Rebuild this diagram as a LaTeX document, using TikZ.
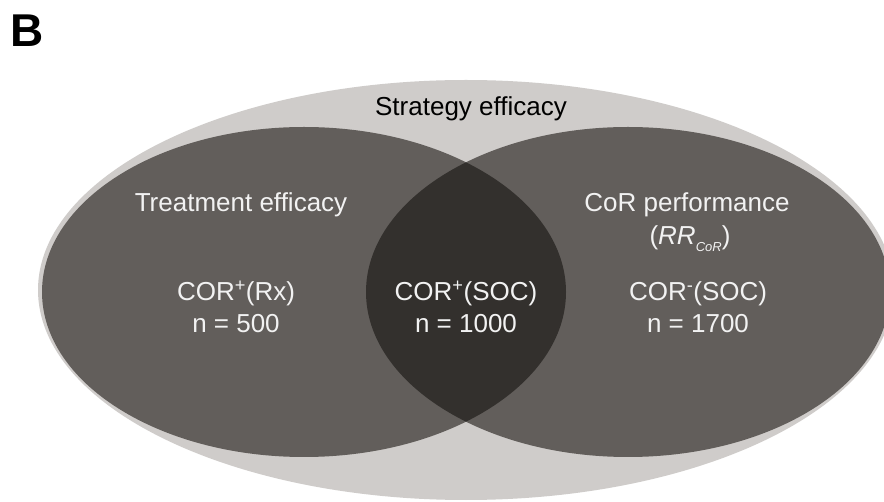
\documentclass[tikz,border=0pt]{standalone}
\usepackage{fontspec}
\setmainfont{Liberation Sans}
\definecolor{strategygray}{HTML}{CFCCCA}
\definecolor{setgray}{HTML}{625E5B}
\definecolor{overlapgray}{HTML}{33302D}
\definecolor{labelwhite}{HTML}{F2F2F2}
\begin{document}
\begin{tikzpicture}[x=1pt,y=1pt,inner sep=0pt,outer sep=0pt,
outerset/.style={fill=strategygray},
innerset/.style={fill=setgray},
overlapset/.style={fill=overlapgray},
lbl/.style={font=\fontsize{26}{32}\selectfont,text=labelwhite,align=center},
toplbl/.style={font=\fontsize{26}{32}\selectfont,text=black}]
\useasboundingbox (0,0) rectangle (884,501);
\clip (0,0) rectangle (884,501);
\fill[white] (0,0) rectangle (884,501);
% sets
\fill[outerset] (466,211) ellipse (428pt and 210pt);
\fill[innerset] (304,209) ellipse (262pt and 165pt);
\fill[innerset] (628,209) ellipse (262pt and 165pt);
\begin{scope}
\clip (304,209) ellipse (262pt and 165pt);
\fill[overlapset] (628,209) ellipse (262pt and 165pt);
\end{scope}
% labels
\draw (27,470) node[font=\fontsize{46}{46}\selectfont\bfseries] (panel) {B};
\draw (471,392) node[toplbl] (strategy) {Strategy efficacy};
\draw (241,296) node[lbl] (treatment) {Treatment efficacy};
\draw (687,296) node[lbl] (corperf) {CoR performance};
\draw (690,262) node[lbl] (rrcor) {(\textit{RR}\raisebox{-7pt}{\fontsize{13}{13}\selectfont\itshape CoR})};
\draw (236,194) node[lbl] (rx) {COR\textsuperscript{+}(Rx)\\n = 500};
\draw (466,194) node[lbl] (socpos) {COR\textsuperscript{+}(SOC)\\n = 1000};
\draw (698,194) node[lbl] (socneg) {COR\textsuperscript{-}(SOC)\\n = 1700};
\end{tikzpicture}
\end{document}
